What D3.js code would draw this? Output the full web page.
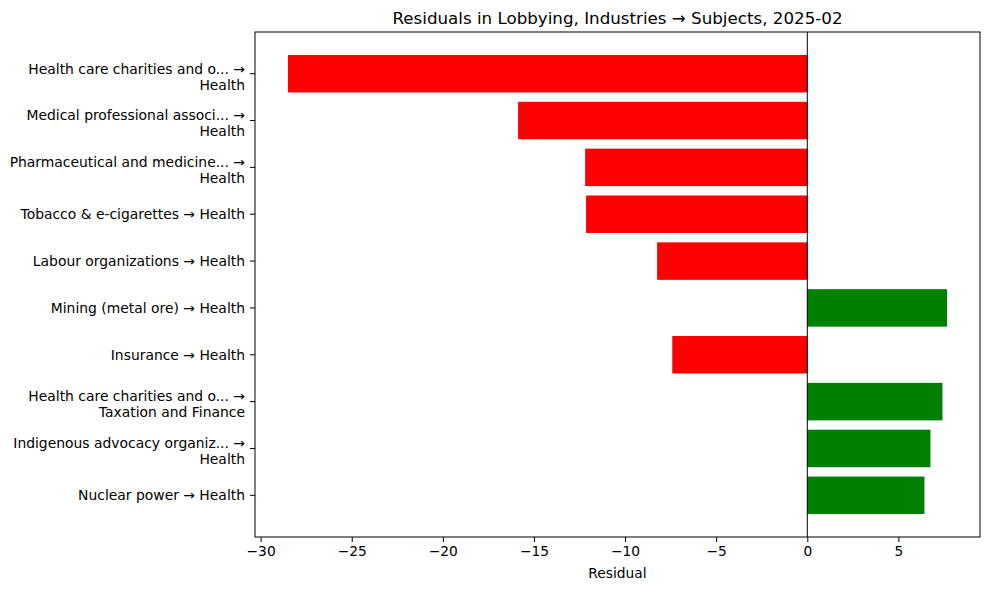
<!DOCTYPE html>
<html>
<head>
<meta charset="utf-8">
<script src="https://cdn.jsdelivr.net/npm/d3@7"></script>
<style>
  body { margin: 0; background: #fff; }
  text { font-family: "DejaVu Sans", sans-serif; fill: #000; }
</style>
</head>
<body>
<div id="chart"></div>
<script>
// chart data, top row first
var labels = [
  ["Health care charities and o... \u2192", "Health"],
  ["Medical professional associ... \u2192", "Health"],
  ["Pharmaceutical and medicine... \u2192", "Health"],
  ["Tobacco & e-cigarettes \u2192 Health"],
  ["Labour organizations \u2192 Health"],
  ["Mining (metal ore) \u2192 Health"],
  ["Insurance \u2192 Health"],
  ["Health care charities and o... \u2192", "Taxation and Finance"],
  ["Indigenous advocacy organiz... \u2192", "Health"],
  ["Nuclear power \u2192 Health"]
];
var residuals = [-28.5, -15.87, -12.19, -12.14, -8.24, 7.67, -7.41, 7.42, 6.76, 6.43];
var xTicks = [-30, -25, -20, -15, -10, -5, 0, 5];

var title = "Residuals in Lobbying, Industries \u2192 Subjects, 2025-02";
var xTitle = "Residual";

//SVG DIMENSIONS
var width = 989;
var height = 590;
var margin = { top: 32, right: 9, bottom: 53, left: 255 };

var svg = d3.select('#chart')
  .append('svg')
  .attr('width', width)
  .attr('height', height);

var g = svg.append('g')
  .attr('transform', 'translate(' + margin.left + ',' + margin.top + ')');

var w = width - margin.left - margin.right;
var h = height - margin.top - margin.bottom;

// matplotlib style 5% margins
var lo = d3.min(residuals.concat([0]));
var hi = d3.max(residuals.concat([0]));
var pad = (hi - lo) * 0.05;
var x = d3.scaleLinear().domain([lo - pad, hi + pad]).range([0, w]);

var y = d3.scaleBand()
  .domain(d3.range(residuals.length))
  .range([0, h])
  .paddingInner(0.2)
  .paddingOuter(0.49);

g.selectAll('rect.bar')
  .data(residuals)
  .enter()
  .append('rect')
  .attr('class', 'bar')
  .attr('x', (d) => x(Math.min(0, d)))
  .attr('y', (d, i) => y(i))
  .attr('width', (d) => Math.abs(x(d) - x(0)))
  .attr('height', y.bandwidth())
  .style('fill', (d) => d < 0 ? '#ff0000' : '#008000');

// zero line
g.append('line')
  .attr('x1', x(0)).attr('x2', x(0))
  .attr('y1', 0).attr('y2', h)
  .attr('stroke', '#000')
  .attr('stroke-width', 1);

// x axis
var xAxis = g.append('g')
  .attr('transform', 'translate(0,' + h + ')')
  .call(d3.axisBottom(x).tickValues(xTicks).tickSize(5).tickPadding(4));
xAxis.select('.domain').remove();
xAxis.selectAll('text').style('font-size', '13.8px').attr('font-family', null);

// y axis ticks
var yAxis = g.append('g')
  .call(d3.axisLeft(y).tickSize(5).tickFormat(''));
yAxis.select('.domain').remove();

var yLab = g.append('g');
labels.forEach(function (lines, i) {
  var cy = y(i) + y.bandwidth() / 2;
  var t = yLab.append('text')
    .attr('text-anchor', 'end')
    .attr('x', -10)
    .style('font-size', '13.9px');
  var offs = lines.length === 1 ? [0] : [-5, 11];
  lines.forEach(function (s, j) {
    t.append('tspan')
      .attr('x', -10)
      .attr('y', cy + offs[j])
      .attr('dy', '0.35em')
      .text(s);
  });
});

// frame
g.append('rect')
  .attr('width', w)
  .attr('height', h)
  .attr('fill', 'none')
  .attr('stroke', '#000')
  .attr('stroke-width', 1);

svg.append('text')
  .attr('x', margin.left + w / 2)
  .attr('y', 24)
  .attr('text-anchor', 'middle')
  .style('font-size', '16.7px')
  .text(title);

svg.append('text')
  .attr('x', margin.left + w / 2)
  .attr('y', 578)
  .attr('text-anchor', 'middle')
  .style('font-size', '13.8px')
  .text(xTitle);
</script>
</body>
</html>
